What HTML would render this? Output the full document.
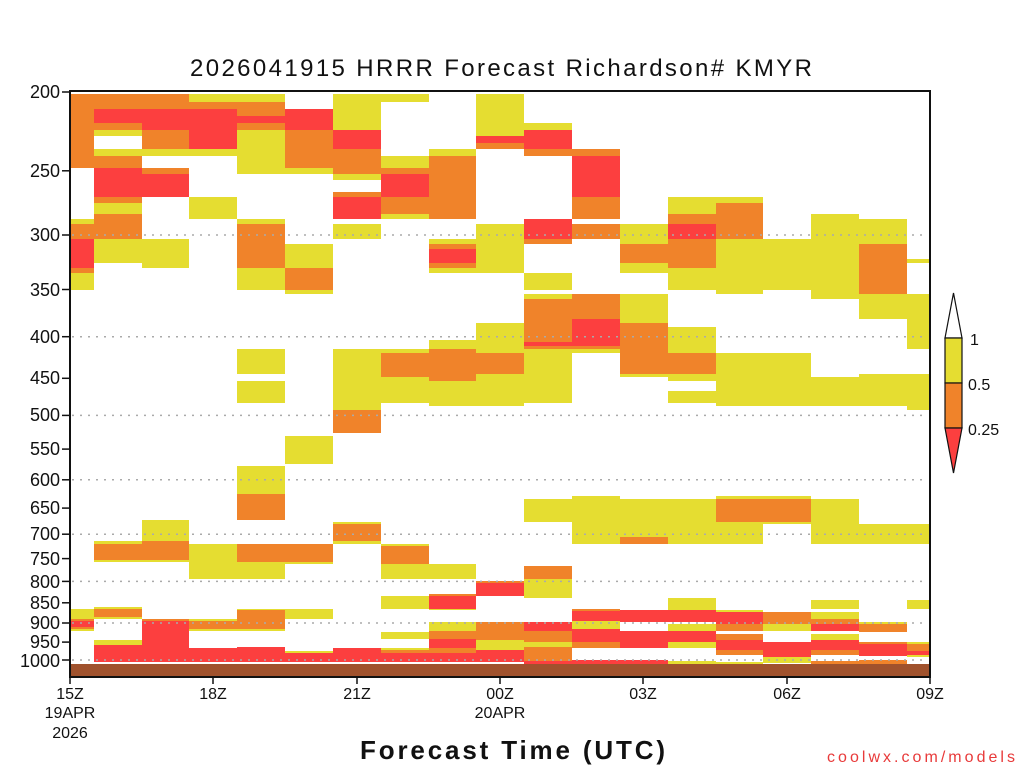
<!DOCTYPE html>
<html><head><meta charset="utf-8"><style>
html,body{margin:0;padding:0;background:#fff;}
svg{display:block;font-family:"Liberation Sans",sans-serif;}
.Y{fill:#e5dd31}.O{fill:#f0832a}.R{fill:#fc3f3f}
</style></head><body>
<svg width="1024" height="768" viewBox="0 0 1024 768">
<rect width="1024" height="768" fill="#fff"/>
<svg x="70" y="0" width="24" height="768"><rect class="O" width="100%" y="94" height="74"/><rect class="Y" width="100%" y="219" height="5"/><rect class="O" width="100%" y="224" height="15"/><rect class="R" width="100%" y="239" height="29"/><rect class="O" width="100%" y="268" height="5"/><rect class="Y" width="100%" y="273" height="17"/><rect class="Y" width="100%" y="609" height="10"/><rect class="O" width="100%" y="619" height="2"/><rect class="R" width="100%" y="621" height="6"/><rect class="O" width="100%" y="627" height="2"/><rect class="Y" width="100%" y="629" height="2"/></svg>
<svg x="94" y="0" width="48" height="768"><rect class="O" width="100%" y="94" height="15"/><rect class="R" width="100%" y="109" height="14"/><rect class="O" width="100%" y="123" height="7"/><rect class="Y" width="100%" y="130" height="6"/><rect class="Y" width="100%" y="149" height="7"/><rect class="O" width="100%" y="156" height="12"/><rect class="R" width="100%" y="168" height="29"/><rect class="O" width="100%" y="197" height="6"/><rect class="Y" width="100%" y="203" height="11"/><rect class="O" width="100%" y="214" height="25"/><rect class="Y" width="100%" y="239" height="24"/><rect class="Y" width="100%" y="541" height="3"/><rect class="O" width="100%" y="544" height="16"/><rect class="Y" width="100%" y="560" height="2"/><rect class="Y" width="100%" y="607" height="2"/><rect class="O" width="100%" y="609" height="8"/><rect class="Y" width="100%" y="617" height="2"/><rect class="Y" width="100%" y="640" height="5"/><rect class="R" width="100%" y="645" height="17"/></svg>
<svg x="142" y="0" width="47" height="768"><rect class="O" width="100%" y="94" height="15"/><rect class="R" width="100%" y="109" height="21"/><rect class="O" width="100%" y="130" height="19"/><rect class="Y" width="100%" y="149" height="7"/><rect class="O" width="100%" y="168" height="6"/><rect class="R" width="100%" y="174" height="23"/><rect class="Y" width="100%" y="239" height="29"/><rect class="Y" width="100%" y="520" height="21"/><rect class="O" width="100%" y="541" height="19"/><rect class="Y" width="100%" y="560" height="2"/><rect class="O" width="100%" y="619" height="2"/><rect class="R" width="100%" y="621" height="41"/></svg>
<svg x="189" y="0" width="48" height="768"><rect class="Y" width="100%" y="94" height="8"/><rect class="O" width="100%" y="102" height="7"/><rect class="R" width="100%" y="109" height="40"/><rect class="Y" width="100%" y="149" height="7"/><rect class="Y" width="100%" y="197" height="22"/><rect class="Y" width="100%" y="544" height="35"/><rect class="Y" width="100%" y="619" height="2"/><rect class="O" width="100%" y="621" height="8"/><rect class="Y" width="100%" y="629" height="2"/><rect class="R" width="100%" y="648" height="14"/></svg>
<svg x="237" y="0" width="48" height="768"><rect class="Y" width="100%" y="94" height="8"/><rect class="O" width="100%" y="102" height="14"/><rect class="R" width="100%" y="116" height="7"/><rect class="O" width="100%" y="123" height="7"/><rect class="Y" width="100%" y="130" height="44"/><rect class="Y" width="100%" y="219" height="5"/><rect class="O" width="100%" y="224" height="44"/><rect class="Y" width="100%" y="268" height="22"/><rect class="Y" width="100%" y="349" height="25"/><rect class="Y" width="100%" y="381" height="22"/><rect class="Y" width="100%" y="466" height="28"/><rect class="O" width="100%" y="494" height="26"/><rect class="O" width="100%" y="544" height="18"/><rect class="Y" width="100%" y="562" height="17"/><rect class="Y" width="100%" y="609" height="1"/><rect class="O" width="100%" y="610" height="19"/><rect class="Y" width="100%" y="629" height="2"/><rect class="R" width="100%" y="647" height="15"/></svg>
<svg x="285" y="0" width="48" height="768"><rect class="R" width="100%" y="109" height="21"/><rect class="O" width="100%" y="130" height="38"/><rect class="Y" width="100%" y="168" height="6"/><rect class="Y" width="100%" y="244" height="24"/><rect class="O" width="100%" y="268" height="22"/><rect class="Y" width="100%" y="290" height="4"/><rect class="Y" width="100%" y="436" height="28"/><rect class="O" width="100%" y="544" height="18"/><rect class="Y" width="100%" y="562" height="2"/><rect class="Y" width="100%" y="609" height="10"/><rect class="Y" width="100%" y="651" height="2"/><rect class="R" width="100%" y="653" height="9"/></svg>
<svg x="333" y="0" width="48" height="768"><rect class="Y" width="100%" y="94" height="36"/><rect class="R" width="100%" y="130" height="19"/><rect class="O" width="100%" y="149" height="25"/><rect class="Y" width="100%" y="174" height="6"/><rect class="O" width="100%" y="192" height="5"/><rect class="R" width="100%" y="197" height="22"/><rect class="Y" width="100%" y="224" height="15"/><rect class="Y" width="100%" y="349" height="61"/><rect class="O" width="100%" y="410" height="23"/><rect class="Y" width="100%" y="522" height="2"/><rect class="O" width="100%" y="524" height="17"/><rect class="Y" width="100%" y="541" height="3"/><rect class="R" width="100%" y="648" height="14"/></svg>
<svg x="381" y="0" width="48" height="768"><rect class="Y" width="100%" y="94" height="8"/><rect class="Y" width="100%" y="156" height="12"/><rect class="O" width="100%" y="168" height="6"/><rect class="R" width="100%" y="174" height="23"/><rect class="O" width="100%" y="197" height="17"/><rect class="Y" width="100%" y="214" height="5"/><rect class="Y" width="100%" y="349" height="4"/><rect class="O" width="100%" y="353" height="24"/><rect class="Y" width="100%" y="377" height="26"/><rect class="Y" width="100%" y="544" height="2"/><rect class="O" width="100%" y="546" height="18"/><rect class="Y" width="100%" y="564" height="15"/><rect class="Y" width="100%" y="596" height="13"/><rect class="Y" width="100%" y="632" height="7"/><rect class="Y" width="100%" y="648" height="2"/><rect class="O" width="100%" y="650" height="3"/><rect class="R" width="100%" y="653" height="9"/></svg>
<svg x="429" y="0" width="47" height="768"><rect class="Y" width="100%" y="149" height="7"/><rect class="O" width="100%" y="156" height="63"/><rect class="Y" width="100%" y="239" height="5"/><rect class="O" width="100%" y="244" height="5"/><rect class="R" width="100%" y="249" height="14"/><rect class="O" width="100%" y="263" height="5"/><rect class="Y" width="100%" y="268" height="5"/><rect class="Y" width="100%" y="340" height="9"/><rect class="O" width="100%" y="349" height="32"/><rect class="Y" width="100%" y="381" height="25"/><rect class="Y" width="100%" y="564" height="15"/><rect class="O" width="100%" y="594" height="2"/><rect class="R" width="100%" y="596" height="13"/><rect class="Y" width="100%" y="609" height="1"/><rect class="Y" width="100%" y="622" height="9"/><rect class="O" width="100%" y="631" height="8"/><rect class="R" width="100%" y="639" height="9"/><rect class="O" width="100%" y="648" height="5"/><rect class="R" width="100%" y="653" height="9"/></svg>
<svg x="476" y="0" width="48" height="768"><rect class="Y" width="100%" y="94" height="42"/><rect class="R" width="100%" y="136" height="7"/><rect class="O" width="100%" y="143" height="6"/><rect class="Y" width="100%" y="224" height="49"/><rect class="Y" width="100%" y="323" height="30"/><rect class="O" width="100%" y="353" height="21"/><rect class="Y" width="100%" y="374" height="32"/><rect class="O" width="100%" y="581" height="2"/><rect class="R" width="100%" y="583" height="13"/><rect class="O" width="100%" y="622" height="18"/><rect class="Y" width="100%" y="640" height="10"/><rect class="R" width="100%" y="650" height="12"/></svg>
<svg x="524" y="0" width="48" height="768"><rect class="Y" width="100%" y="123" height="7"/><rect class="R" width="100%" y="130" height="19"/><rect class="O" width="100%" y="149" height="7"/><rect class="R" width="100%" y="219" height="20"/><rect class="O" width="100%" y="239" height="5"/><rect class="Y" width="100%" y="273" height="17"/><rect class="Y" width="100%" y="294" height="5"/><rect class="O" width="100%" y="299" height="43"/><rect class="R" width="100%" y="342" height="4"/><rect class="O" width="100%" y="346" height="3"/><rect class="Y" width="100%" y="349" height="54"/><rect class="Y" width="100%" y="499" height="23"/><rect class="O" width="100%" y="566" height="13"/><rect class="Y" width="100%" y="579" height="19"/><rect class="R" width="100%" y="622" height="9"/><rect class="O" width="100%" y="631" height="11"/><rect class="Y" width="100%" y="642" height="5"/><rect class="O" width="100%" y="647" height="14"/><rect class="R" width="100%" y="661" height="3"/></svg>
<svg x="572" y="0" width="48" height="768"><rect class="O" width="100%" y="149" height="7"/><rect class="R" width="100%" y="156" height="41"/><rect class="O" width="100%" y="197" height="22"/><rect class="O" width="100%" y="224" height="15"/><rect class="O" width="100%" y="294" height="25"/><rect class="R" width="100%" y="319" height="27"/><rect class="O" width="100%" y="346" height="3"/><rect class="Y" width="100%" y="349" height="4"/><rect class="Y" width="100%" y="496" height="48"/><rect class="O" width="100%" y="609" height="2"/><rect class="R" width="100%" y="611" height="10"/><rect class="Y" width="100%" y="621" height="8"/><rect class="R" width="100%" y="629" height="13"/><rect class="O" width="100%" y="642" height="6"/><rect class="R" width="100%" y="660" height="4"/></svg>
<svg x="620" y="0" width="48" height="768"><rect class="Y" width="100%" y="224" height="20"/><rect class="O" width="100%" y="244" height="19"/><rect class="Y" width="100%" y="263" height="10"/><rect class="Y" width="100%" y="294" height="29"/><rect class="O" width="100%" y="323" height="51"/><rect class="Y" width="100%" y="374" height="3"/><rect class="Y" width="100%" y="499" height="38"/><rect class="O" width="100%" y="537" height="7"/><rect class="R" width="100%" y="610" height="12"/><rect class="R" width="100%" y="631" height="17"/><rect class="R" width="100%" y="660" height="4"/></svg>
<svg x="668" y="0" width="48" height="768"><rect class="Y" width="100%" y="197" height="17"/><rect class="O" width="100%" y="214" height="10"/><rect class="R" width="100%" y="224" height="15"/><rect class="O" width="100%" y="239" height="29"/><rect class="Y" width="100%" y="268" height="22"/><rect class="Y" width="100%" y="327" height="26"/><rect class="O" width="100%" y="353" height="21"/><rect class="Y" width="100%" y="374" height="7"/><rect class="Y" width="100%" y="391" height="12"/><rect class="Y" width="100%" y="499" height="45"/><rect class="Y" width="100%" y="598" height="12"/><rect class="R" width="100%" y="610" height="12"/><rect class="Y" width="100%" y="624" height="7"/><rect class="R" width="100%" y="631" height="11"/><rect class="Y" width="100%" y="642" height="6"/><rect class="Y" width="100%" y="661" height="3"/></svg>
<svg x="716" y="0" width="47" height="768"><rect class="Y" width="100%" y="197" height="6"/><rect class="O" width="100%" y="203" height="36"/><rect class="Y" width="100%" y="239" height="55"/><rect class="Y" width="100%" y="353" height="53"/><rect class="Y" width="100%" y="496" height="3"/><rect class="O" width="100%" y="499" height="23"/><rect class="Y" width="100%" y="522" height="22"/><rect class="Y" width="100%" y="610" height="2"/><rect class="R" width="100%" y="612" height="12"/><rect class="O" width="100%" y="624" height="7"/><rect class="O" width="100%" y="634" height="6"/><rect class="R" width="100%" y="640" height="10"/><rect class="O" width="100%" y="650" height="5"/><rect class="Y" width="100%" y="662" height="2"/></svg>
<svg x="763" y="0" width="48" height="768"><rect class="Y" width="100%" y="239" height="51"/><rect class="Y" width="100%" y="353" height="53"/><rect class="Y" width="100%" y="496" height="3"/><rect class="O" width="100%" y="499" height="23"/><rect class="Y" width="100%" y="522" height="2"/><rect class="O" width="100%" y="612" height="12"/><rect class="Y" width="100%" y="624" height="7"/><rect class="R" width="100%" y="642" height="15"/><rect class="Y" width="100%" y="657" height="6"/></svg>
<svg x="811" y="0" width="48" height="768"><rect class="Y" width="100%" y="214" height="85"/><rect class="Y" width="100%" y="377" height="29"/><rect class="Y" width="100%" y="499" height="45"/><rect class="Y" width="100%" y="600" height="9"/><rect class="Y" width="100%" y="612" height="7"/><rect class="O" width="100%" y="619" height="5"/><rect class="R" width="100%" y="624" height="7"/><rect class="Y" width="100%" y="634" height="6"/><rect class="R" width="100%" y="640" height="10"/><rect class="O" width="100%" y="650" height="5"/><rect class="O" width="100%" y="661" height="3"/></svg>
<svg x="859" y="0" width="48" height="768"><rect class="Y" width="100%" y="219" height="25"/><rect class="O" width="100%" y="244" height="50"/><rect class="Y" width="100%" y="294" height="25"/><rect class="Y" width="100%" y="374" height="32"/><rect class="Y" width="100%" y="524" height="20"/><rect class="Y" width="100%" y="622" height="2"/><rect class="O" width="100%" y="624" height="8"/><rect class="O" width="100%" y="642" height="2"/><rect class="R" width="100%" y="644" height="12"/><rect class="O" width="100%" y="660" height="4"/></svg>
<svg x="907" y="0" width="23" height="768"><rect class="Y" width="100%" y="259" height="4"/><rect class="Y" width="100%" y="294" height="55"/><rect class="Y" width="100%" y="374" height="36"/><rect class="Y" width="100%" y="524" height="20"/><rect class="Y" width="100%" y="600" height="9"/><rect class="Y" width="100%" y="642" height="2"/><rect class="O" width="100%" y="644" height="7"/><rect class="R" width="100%" y="651" height="4"/><rect class="Y" width="100%" y="655" height="2"/></svg>
<rect x="70" y="664" width="860" height="13" fill="#a0522d"/>
<g stroke="#aaa" stroke-width="1.5" stroke-dasharray="2,6">
<line x1="72" x2="928" y1="235" y2="235"/><line x1="72" x2="928" y1="336.7" y2="336.7"/>
<line x1="72" x2="928" y1="415.4" y2="415.4"/><line x1="72" x2="928" y1="479.8" y2="479.8"/>
<line x1="72" x2="928" y1="534.2" y2="534.2"/><line x1="72" x2="928" y1="581.4" y2="581.4"/>
<line x1="72" x2="928" y1="623" y2="623"/><line x1="72" x2="928" y1="660" y2="660"/>
</g>
<rect x="70" y="91" width="860" height="586" fill="none" stroke="#111" stroke-width="2"/>
<g stroke="#111" stroke-width="1.5">
<line x1="62" x2="70" y1="92" y2="92"/><line x1="62" x2="70" y1="170.8" y2="170.8"/><line x1="62" x2="70" y1="235" y2="235"/><line x1="62" x2="70" y1="289.5" y2="289.5"/><line x1="62" x2="70" y1="336.7" y2="336.7"/><line x1="62" x2="70" y1="378.3" y2="378.3"/><line x1="62" x2="70" y1="415.4" y2="415.4"/><line x1="62" x2="70" y1="449.1" y2="449.1"/><line x1="62" x2="70" y1="479.8" y2="479.8"/><line x1="62" x2="70" y1="508.1" y2="508.1"/><line x1="62" x2="70" y1="534.2" y2="534.2"/><line x1="62" x2="70" y1="558.6" y2="558.6"/><line x1="62" x2="70" y1="581.4" y2="581.4"/><line x1="62" x2="70" y1="602.8" y2="602.8"/><line x1="62" x2="70" y1="623" y2="623"/><line x1="62" x2="70" y1="642.1" y2="642.1"/><line x1="62" x2="70" y1="660" y2="660"/>
<line x1="70" x2="70" y1="677" y2="684"/><line x1="213" x2="213" y1="677" y2="684"/><line x1="357" x2="357" y1="677" y2="684"/><line x1="500" x2="500" y1="677" y2="684"/><line x1="643" x2="643" y1="677" y2="684"/><line x1="787" x2="787" y1="677" y2="684"/><line x1="930" x2="930" y1="677" y2="684"/>
</g>
<g font-size="18" fill="#111" text-anchor="end">
<text x="60" y="98">200</text><text x="60" y="177">250</text><text x="60" y="241">300</text><text x="60" y="296">350</text><text x="60" y="343">400</text><text x="60" y="384">450</text><text x="60" y="421">500</text><text x="60" y="455">550</text><text x="60" y="486">600</text><text x="60" y="514">650</text><text x="60" y="540">700</text><text x="60" y="565">750</text><text x="60" y="588">800</text><text x="60" y="609">850</text><text x="60" y="629">900</text><text x="60" y="648">950</text><text x="60" y="667">1000</text>
</g>
<g font-size="16" fill="#111" text-anchor="middle">
<text x="70" y="699">15Z</text><text x="70" y="718">19APR</text><text x="70" y="738">2026</text>
<text x="213" y="699">18Z</text><text x="357" y="699">21Z</text>
<text x="500" y="699">00Z</text><text x="500" y="718">20APR</text>
<text x="643" y="699">03Z</text><text x="787" y="699">06Z</text><text x="930" y="699">09Z</text>
</g>
<text x="190" y="76" font-size="24" fill="#111" textLength="622" lengthAdjust="spacing">2026041915 HRRR Forecast Richardson# KMYR</text>
<text x="360" y="759" font-size="26" font-weight="bold" fill="#111" textLength="305" lengthAdjust="spacing">Forecast Time (UTC)</text>
<text x="827" y="762" font-size="16" fill="#e83a3a" textLength="188" lengthAdjust="spacing">coolwx.com/models</text>
<g stroke="#111" stroke-width="1.2">
<polygon points="953.5,293 945,338 962,338" fill="#fff"/>
<rect x="945" y="338" width="17" height="45" fill="#e5dd31"/>
<rect x="945" y="383" width="17" height="45" fill="#f0832a"/>
<polygon points="945,428 962,428 953.5,473" fill="#fc3f3f"/>
</g>
<g font-size="16" fill="#111">
<text x="970" y="345">1</text><text x="968" y="390">0.5</text><text x="968" y="435">0.25</text>
</g>
</svg>
</body></html>
